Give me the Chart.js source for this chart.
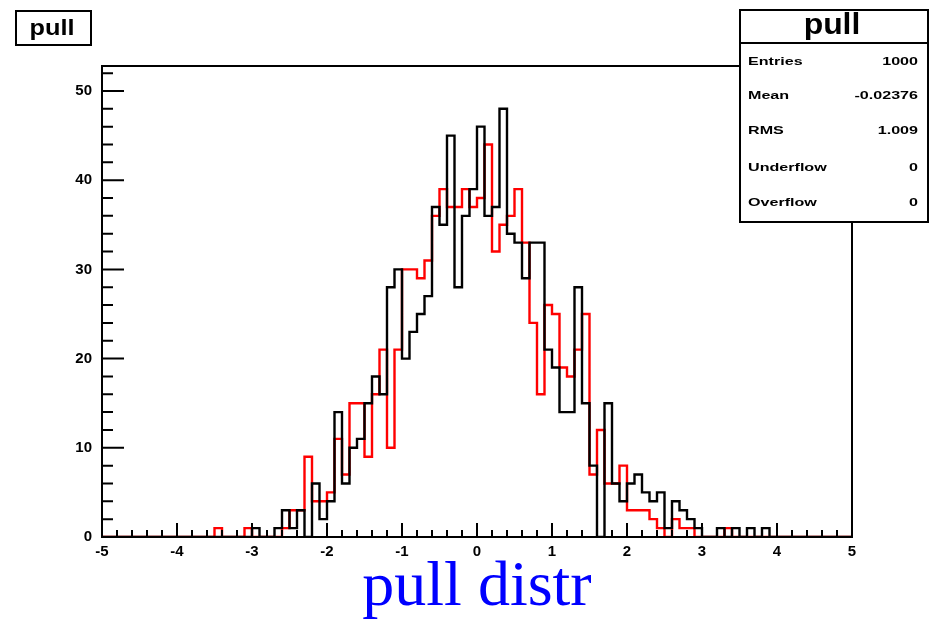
<!DOCTYPE html>
<html>
<head>
<meta charset="utf-8">
<script src="https://cdn.jsdelivr.net/npm/chart.js@4.4.0/dist/chart.umd.min.js"></script>
<style>
  html, body { margin: 0; padding: 0; background: #fff; }
</style>
</head>
<body>
<canvas id="myChart" width="933" height="620"></canvas>
<script>
// histogram binning
var xMin = -5;
var xMax = 5;
var binWidth = 0.1;

// bin contents, 100 bins from -5 to 5
var redCounts = [
  0, 0, 0, 0, 0, 0, 0, 0, 0, 0,
  0, 0, 0, 0, 0, 1, 0, 0, 0, 1,
  0, 0, 0, 0, 1, 3, 3, 9, 4, 4,
  5, 11, 7, 15, 15, 9, 16, 21, 10, 21,
  30, 30, 29, 31, 36, 39, 37, 37, 39, 37,
  38, 44, 32, 35, 36, 39, 33, 24, 16, 26,
  25, 19, 18, 21, 25, 7, 12, 6, 6, 8,
  3, 3, 3, 2, 1, 0, 2, 1, 1, 0,
  0, 0, 0, 1, 0, 0, 0, 0, 0, 0,
  0, 0, 0, 0, 0, 0, 0, 0, 0, 0
];
var blackCounts = [
  0, 0, 0, 0, 0, 0, 0, 0, 0, 0,
  0, 0, 0, 0, 0, 0, 0, 0, 0, 0,
  1, 0, 0, 1, 3, 1, 3, 0, 6, 2,
  4, 14, 6, 10, 11, 15, 18, 16, 28, 30,
  20, 23, 25, 27, 37, 35, 45, 28, 36, 39,
  46, 36, 37, 48, 34, 33, 29, 33, 33, 21,
  19, 14, 14, 28, 15, 8, 0, 15, 6, 4,
  6, 7, 5, 4, 5, 1, 4, 3, 2, 1,
  0, 0, 1, 0, 1, 0, 1, 0, 1, 0,
  0, 0, 0, 0, 0, 0, 0, 0, 0, 0
];

var xTicks = [-5, -4, -3, -2, -1, 0, 1, 2, 3, 4, 5];
var yTicks = [0, 10, 20, 30, 40, 50];
var yMax = 52.8;

var histTitle = 'pull';
var axisTitle = 'pull distr';
var statsLabels = ['Entries', 'Mean', 'RMS', 'Underflow', 'Overflow'];
var statsValues = ['1000', '-0.02376', '1.009', '0', '0'];

// bin i spans [xMin + i*binWidth, xMin + (i+1)*binWidth]
function histPoints(counts) {
  var pts = [];
  for (var i = 0; i < counts.length; i++) {
    pts.push({ x: xMin + i * binWidth, y: counts[i] });
  }
  pts.push({ x: xMax, y: counts[counts.length - 1] });
  return pts;
}

// draw text stretched horizontally (ROOT fonts look wide)
function wideText(ctx, txt, x, y, align, sx) {
  ctx.save();
  ctx.translate(x, y);
  ctx.scale(sx, 1);
  ctx.textAlign = align;
  ctx.fillText(txt, 0, 0);
  ctx.restore();
}

var rootDecor = {
  id: 'rootDecor',
  beforeDraw: function (chart) {
    var ctx = chart.ctx;
    ctx.save();
    ctx.fillStyle = '#fff';
    ctx.fillRect(0, 0, chart.width, chart.height);
    ctx.restore();
  },
  afterDraw: function (chart) {
    var ctx = chart.ctx;
    var a = chart.chartArea;
    var xs = chart.scales.x;
    var ys = chart.scales.y;
    ctx.save();
    ctx.strokeStyle = '#000';
    ctx.lineWidth = 2;

    // ticks inside the frame
    ctx.beginPath();
    for (var k = 0; k <= 50; k++) {
      var px = xs.getPixelForValue(xMin + k * 0.2);
      var len = (k % 5 === 0) ? 14 : 7;
      ctx.moveTo(px, a.bottom);
      ctx.lineTo(px, a.bottom - len);
    }
    for (var v = 0; v <= yMax; v += 2) {
      var py = ys.getPixelForValue(v);
      var l2 = (v % 10 === 0) ? 22 : 11;
      ctx.moveTo(a.left, py);
      ctx.lineTo(a.left + l2, py);
    }
    ctx.stroke();

    // frame
    ctx.strokeRect(a.left, a.top, a.right - a.left, a.bottom - a.top);

    // title box top left
    ctx.fillStyle = '#fff';
    ctx.fillRect(16, 11, 75, 34);
    ctx.strokeRect(16, 11, 75, 34);
    ctx.fillStyle = '#000';
    ctx.font = 'bold 22px "Liberation Sans", Arial, sans-serif';
    ctx.textBaseline = 'alphabetic';
    wideText(ctx, histTitle, 52, 35, 'center', 1.15);

    // stats box
    ctx.fillStyle = '#fff';
    ctx.fillRect(740, 10, 188, 212);
    ctx.strokeRect(740, 10, 188, 212);
    ctx.beginPath();
    ctx.moveTo(740, 43);
    ctx.lineTo(928, 43);
    ctx.stroke();
    ctx.fillStyle = '#000';
    ctx.font = 'bold 29px "Liberation Sans", Arial, sans-serif';
    wideText(ctx, histTitle, 832, 34, 'center', 1.1);
    ctx.font = 'bold 11.5px "Liberation Sans", Arial, sans-serif';
    ctx.textBaseline = 'middle';
    var rowY = [62, 96, 131, 168, 203];
    for (var r = 0; r < statsLabels.length; r++) {
      wideText(ctx, statsLabels[r], 748, rowY[r], 'left', 1.4);
      wideText(ctx, statsValues[r], 918, rowY[r], 'right', 1.4);
    }
    ctx.restore();
  }
};

var ctx = document.getElementById('myChart');
var chart = new Chart(ctx, {
  type: 'line',
  data: {
    datasets: [{
      label: 'black',
      data: histPoints(blackCounts),
      borderColor: '#000',
      borderWidth: 2.4,
      stepped: 'before',
      pointRadius: 0,
      fill: false,
      order: 1
    }, {
      label: 'red',
      data: histPoints(redCounts),
      borderColor: '#ff0000',
      borderWidth: 2.4,
      stepped: 'before',
      pointRadius: 0,
      fill: false,
      order: 2
    }]
  },
  options: {
    responsive: false,
    animation: false,
    devicePixelRatio: 1,
    layout: { padding: { left: 0, right: 81, top: 66, bottom: 0 } },
    plugins: {
      legend: { display: false },
      tooltip: { enabled: false }
    },
    scales: {
      x: {
        type: 'linear',
        min: xMin,
        max: xMax,
        afterBuildTicks: function (s) { s.ticks = xTicks.map(function (v) { return { value: v }; }); },
        afterFit: function (s) { s.height = 83; },
        grid: { display: false, drawTicks: false },
        border: { display: false },
        ticks: {
          color: '#000',
          padding: 6,
          maxRotation: 0,
          font: { family: '"Liberation Sans", Arial, sans-serif', size: 15, weight: 'bold' }
        },
        title: {
          display: true,
          text: axisTitle,
          color: '#0000ff',
          padding: { top: 0, bottom: 0 },
          font: { family: '"Liberation Serif", "Times New Roman", serif', size: 64, lineHeight: 1 }
        }
      },
      y: {
        type: 'linear',
        min: 0,
        max: yMax,
        afterBuildTicks: function (s) { s.ticks = yTicks.map(function (v) { return { value: v }; }); },
        afterFit: function (s) { s.width = 102; },
        grid: { display: false, drawTicks: false },
        border: { display: false },
        ticks: {
          color: '#000',
          padding: 10,
          font: { family: '"Liberation Sans", Arial, sans-serif', size: 15, weight: 'bold' }
        }
      }
    }
  },
  plugins: [rootDecor]
});
</script>
</body>
</html>
